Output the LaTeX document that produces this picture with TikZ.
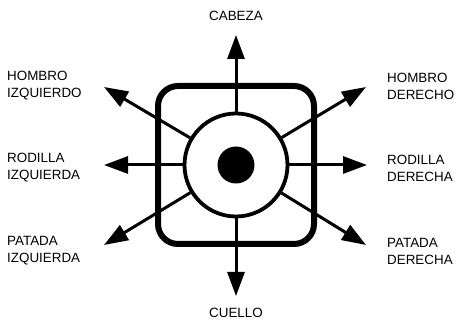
\documentclass[tikz,border=0pt]{standalone}
\usepackage{fontspec}
\setmainfont{Liberation Sans}
\usetikzlibrary{arrows.meta,positioning,calc}

\begin{document}
\begin{tikzpicture}[
    x=1pt, y=1pt,
    % --- Node styles ---
    box/.style={draw, line width=6pt, rounded corners=20pt,
                minimum width=156pt, minimum height=158pt},
    ring/.style={draw, circle, line width=3.8pt, minimum size=103pt},
    dot/.style={fill, circle, minimum size=37pt, inner sep=0pt},
    lbl/.style={font=\fontsize{13.4}{17}\selectfont, inner sep=0pt},
    % --- Edge styles ---
    spoke/.style={line width=3pt, -{Triangle[length=24pt,width=17pt]}},
]
\useasboundingbox (0,0) rectangle (459,320);

% === centre piece ===
\coordinate (c) at (236,155);
\node[box] (pad) at (c) {};
\node[ring] (ring) at (c) {};
\node[dot] (btn) at (c) {};

% === arrow ends ===
\coordinate (up) at ($(c)+(0,130)$);
\coordinate (dn) at ($(c)+(0,-131)$);
\coordinate (lt) at ($(c)+(-132,0)$);
\coordinate (rt) at ($(c)+(131,0)$);
\coordinate (ul) at ($(c)+(-132,78)$);
\coordinate (ur) at ($(c)+(130,78)$);
\coordinate (dl) at ($(c)+(-132,-80)$);
\coordinate (dr) at ($(c)+(130,-80)$);

\foreach \e in {up,dn,lt,rt,ul,ur,dl,dr}
  \draw[spoke] (ring) -- (\e);

% --- Labels ---
\node[lbl] (cabeza) at (236,304.5) {CABEZA};
\node[lbl] (cuello) at (236,7.5) {CUELLO};
\node[lbl, anchor=west, align=left] (hizq) at (7,234) {HOMBRO\\IZQUIERDO};
\node[lbl, anchor=west, align=left] (rizq) at (7,152) {RODILLA\\IZQUIERDA};
\node[lbl, anchor=west, align=left] (pizq) at (7,69) {PATADA\\IZQUIERDA};
\node[lbl, anchor=west, align=left] (hder) at (387,234) {HOMBRO\\DERECHO};
\node[lbl, anchor=west, align=left] (rder) at (387,152) {RODILLA\\DERECHA};
\node[lbl, anchor=west, align=left] (pder) at (387,69) {PATADA\\DERECHA};

\end{tikzpicture}
\end{document}
